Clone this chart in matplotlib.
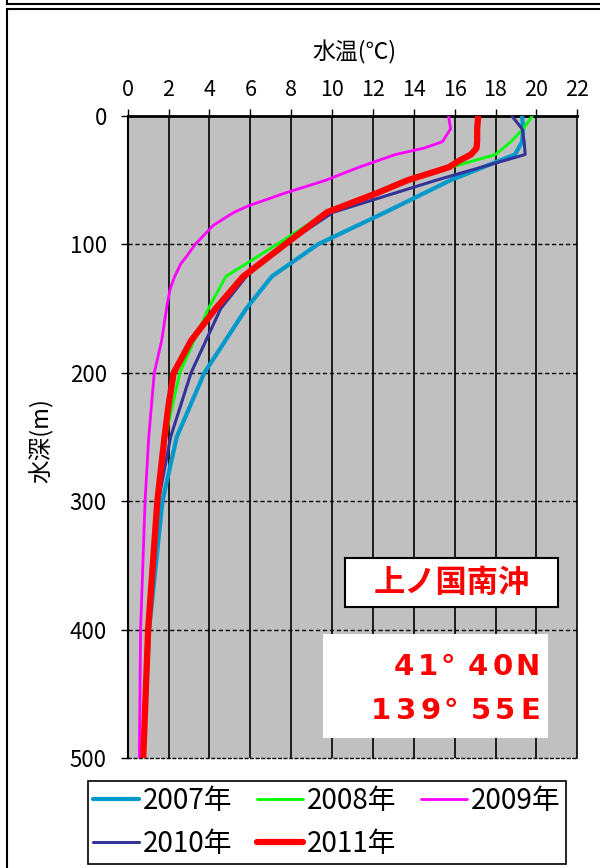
import matplotlib.pyplot as plt
from matplotlib.lines import Line2D
from matplotlib.patches import Rectangle

plt.rcParams['font.family'] = ['Noto Sans CJK JP', 'DejaVu Sans']

# figure size in pixels
W, H = 600, 868

def fx(x):
    return x / W

def fy(y):
    return 1 - y / H

# data: depth [m] and water temperature [deg C]
depth_std = [0, 10, 20, 30, 50, 75, 100, 125, 150, 200, 250, 300, 400, 500]
temp_2007 = [19.3, 19.35, 19.3, 18.95, 15.8, 12.6, 9.3, 7.05, 5.8, 3.75, 2.4, 1.7, 1.05, 0.75]
temp_2008 = [19.8, 19.35, 18.75, 18.0, 13.6, 9.75, 7.3, 4.8, 3.95, 2.55, 1.85, 1.45, 1.0, 0.75]
temp_2010 = [18.8, 19.3, 19.4, 19.45, 15.1, 10.05, 7.7, 5.8, 4.55, 3.1, 2.1, 1.5, 1.0, 0.75]

depth_2009 = [0, 10, 20, 25, 30, 40, 50, 60, 70, 75, 85, 100, 110, 115, 125, 135, 150, 175, 200, 250, 300, 400, 500]
temp_2009 = [15.7, 15.8, 15.4, 14.5, 13.1, 11.3, 9.7, 7.7, 5.9, 5.2, 4.2, 3.3, 2.85, 2.6, 2.3, 2.07, 1.9, 1.66, 1.3, 1.03, 0.85, 0.63, 0.57]

depth_2011 = [0, 10, 20, 25, 30, 35, 40, 50, 60, 75, 100, 125, 150, 175, 200, 225, 250, 300, 400, 500]
temp_2011 = [17.15, 17.1, 17.1, 17.07, 16.8, 16.2, 15.7, 13.7, 12.2, 9.75, 7.7, 5.65, 4.3, 3.1, 2.25, 2.0, 1.8, 1.45, 1.0, 0.76]

years = ['2007年', '2008年', '2009年', '2010年', '2011年']
colors = ['#0099CC', '#00FF00', '#FF00FF', '#333399', '#FF0000']
widths = [3.0, 2.0, 2.0, 2.2, 4.5]

place_name = '上ノ国南沖'
lat_text = '41°40N'
lon_text = '139°55E'

fig = plt.figure(figsize=(W / 100, H / 100), dpi=100)
fig.set_facecolor('white')

# outer frame lines
fig.add_artist(Line2D([fx(7), fx(600)], [fy(4), fy(4)], color='black', lw=1.5))
fig.add_artist(Line2D([fx(7), fx(7)], [fy(0), fy(4)], color='black', lw=1.5))
fig.add_artist(Line2D([fx(7), fx(600)], [fy(9), fy(9)], color='black', lw=1.5))
fig.add_artist(Line2D([fx(7), fx(7)], [fy(9), fy(868)], color='black', lw=1.5))

left, right, top, bottom = 127.7, 577.3, 116, 758
ax = fig.add_axes([fx(left), fy(bottom), (right - left) / W, (bottom - top) / H])
ax.set_facecolor('#C0C0C0')

series = [(temp_2007, depth_std), (temp_2008, depth_std), (temp_2009, depth_2009),
          (temp_2010, depth_std), (temp_2011, depth_2011)]
handles = []
for (t, d), lab, c, lw in zip(series, years, colors, widths):
    h, = ax.plot(t, d, color=c, lw=lw, label=lab, solid_capstyle='round',
                 solid_joinstyle='round', zorder=3)
    handles.append(h)

ax.set_xlim(0, 22)
ax.set_ylim(500, 0)
ax.set_xticks(range(0, 23, 2))
ax.set_yticks(range(0, 501, 100))
ax.xaxis.tick_top()
ax.tick_params(axis='x', direction='out', length=5, width=1, pad=6, labelsize=15.5)
ax.tick_params(axis='y', direction='out', length=5, width=1, pad=10, labelsize=16)

for v in range(2, 22, 2):
    ax.axvline(v, color='black', lw=1.2, zorder=1)
for v in range(100, 500, 100):
    ax.axhline(v, color='black', lw=1, ls=(0, (3, 2)), zorder=1)

for s in ['top', 'left', 'right']:
    ax.spines[s].set_color('black')
ax.spines['top'].set_linewidth(2)
ax.spines['left'].set_linewidth(1.5)
ax.spines['right'].set_linewidth(1.2)
ax.spines['bottom'].set_linewidth(1)
ax.spines['bottom'].set_linestyle((0, (2, 2)))

fig.text(fx(354), fy(52), '水温(℃)', fontsize=16.5, ha='center', va='center')
fig.text(fx(42), fy(441), '水深(m)', fontsize=17, ha='center', va='center', rotation=90)

# place name box
fig.add_artist(Rectangle((fx(345), fy(607)), (558 - 345) / W, (607 - 558) / H,
                         transform=fig.transFigure, facecolor='white', edgecolor='black', lw=1.5))
fig.text(fx(451.5), fy(583), place_name, fontsize=22.5, fontweight='bold', color='#FF0000',
         ha='center', va='center')

# position box, characters spaced on a fixed pitch like the original
fig.add_artist(Rectangle((fx(323), fy(738)), (548 - 323) / W, (738 - 634) / H,
                         transform=fig.transFigure, facecolor='white', edgecolor='none'))

def spaced(s, x_last, y, pitch=24.8):
    n = len(s)
    for i, ch in enumerate(s):
        x = x_last - (n - 1 - i) * pitch
        if ch == '°':
            x -= 5
        fig.text(fx(x), fy(y), ch, fontsize=21, fontweight='bold', color='#FF0000',
                 ha='center', va='center', family='DejaVu Sans')

spaced(lat_text, 527.5, 667)
spaced(lon_text, 530, 711)

# legend, row by row
order = [0, 3, 1, 4, 2]
leg = fig.legend([handles[i] for i in order], [years[i] for i in order], ncol=3,
                 loc='upper left', bbox_to_anchor=(fx(88), fy(781)), borderaxespad=0,
                 fontsize=20, handlelength=1.65, handletextpad=0.15, columnspacing=0.88,
                 labelspacing=0.46, borderpad=0.18, fancybox=False, framealpha=1)
leg.get_frame().set_edgecolor('black')
leg.get_frame().set_linewidth(1.2)

fig.savefig('out.png', dpi=100)
